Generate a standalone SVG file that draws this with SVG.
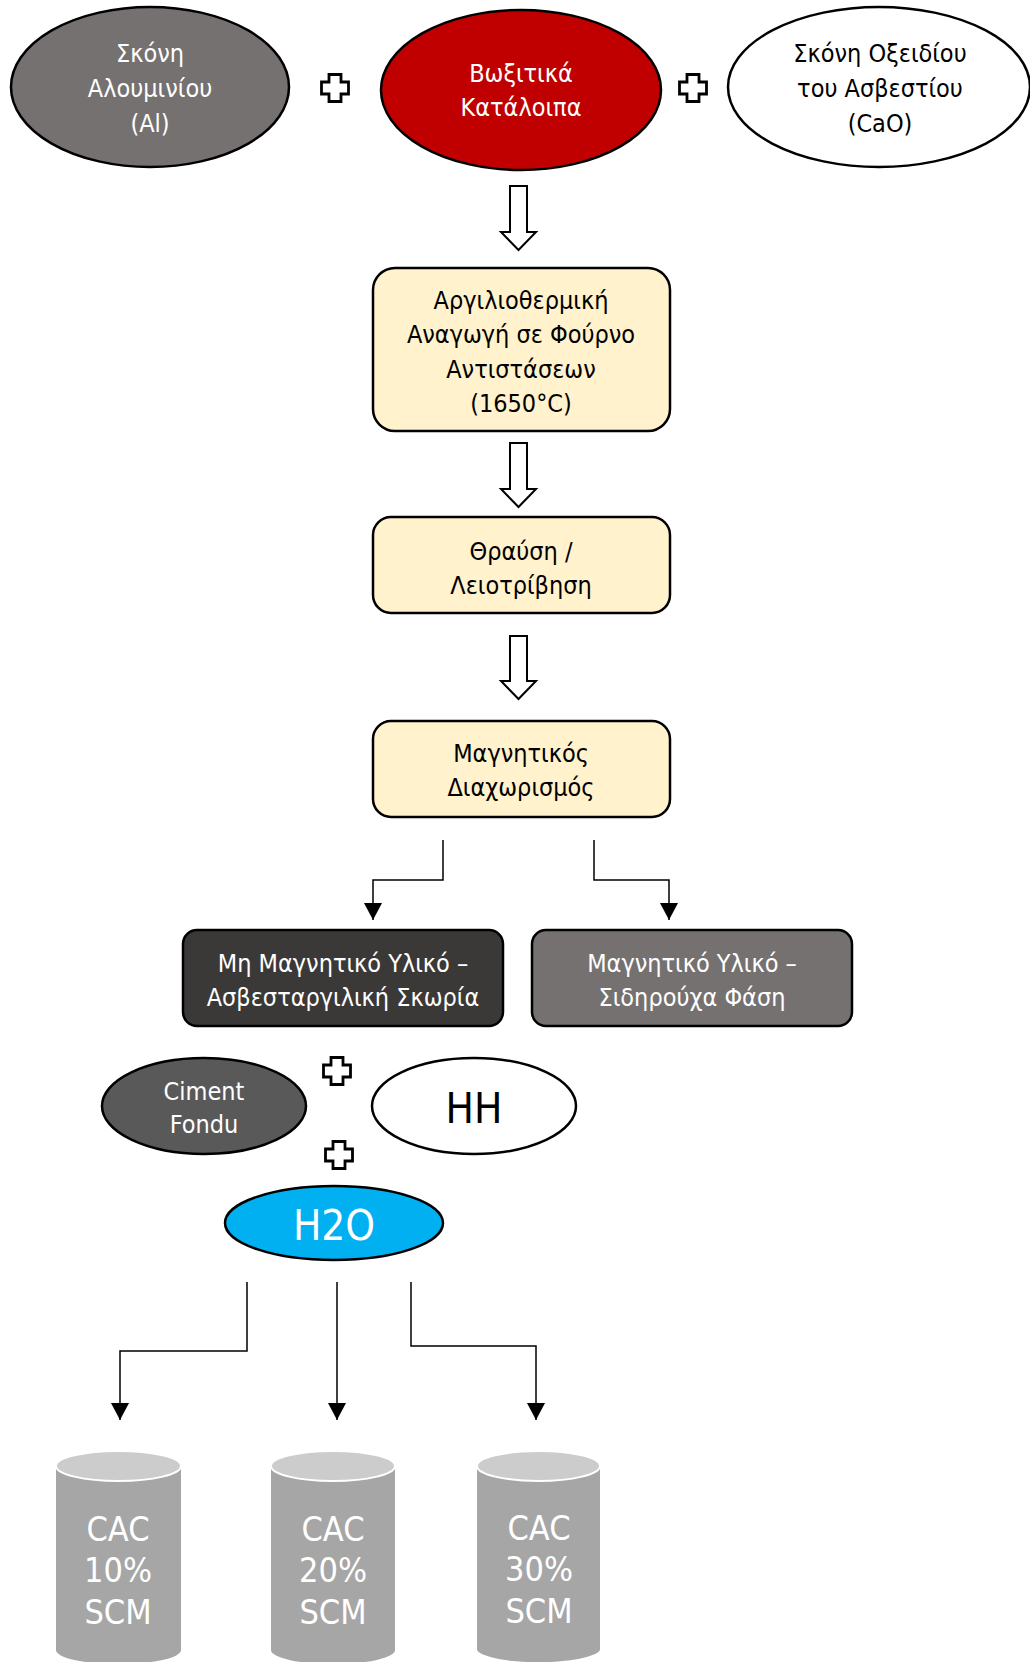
<svg xmlns="http://www.w3.org/2000/svg" width="1030" height="1662" viewBox="0 0 1030 1662">
<style>
text{font-family:"Liberation Sans Narrow","DejaVu Sans Condensed","Roboto",sans-serif;text-anchor:middle;dominant-baseline:central}
.t{font-size:25px}
.w{fill:#ffffff}
.k{fill:#000000}
.ol{stroke:#000;stroke-width:2.5}
.box{fill:#fff2cc;stroke:#000;stroke-width:2.5}
.blk{fill:#fff;stroke:#000;stroke-width:2}
.plus{fill:#fff;stroke:#000;stroke-width:2.8}
.con{fill:none;stroke:#000;stroke-width:1.5;marker-end:url(#ah)}
.cylb{fill:#a6a6a6}
.cylt{fill:#cccccc;stroke:#fff;stroke-width:2}
.big{font-size:34px}
</style>
<defs>
<marker id="ah" viewBox="0 0 10 10" refX="10" refY="5" markerWidth="17" markerHeight="18" preserveAspectRatio="none" orient="auto" markerUnits="userSpaceOnUse">
<path d="M0,0 L10,5 L0,10 Z" fill="#000"/>
</marker>
<path id="pl" d="M-6,-13.5 H6 V-6 H13.5 V6 H6 V13.5 H-6 V6 H-13.5 V-6 H-6 Z"/>
</defs>
<rect width="1030" height="1662" fill="#fff"/>

<g id="al">
<ellipse cx="150" cy="87" rx="139" ry="80" fill="#757171" class="ol"/>
<text class="t w" x="150" y="53">Σκόνη</text>
<text class="t w" x="150" y="88">Αλουμινίου</text>
<text class="t w" x="150" y="123">(Al)</text>
</g>
<g id="plus1"><use href="#pl" x="335" y="88" class="plus"/></g>
<g id="red">
<ellipse cx="521" cy="90" rx="140" ry="80" fill="#c00000" class="ol"/>
<text class="t w" x="521" y="73">Βωξιτικά</text>
<text class="t w" x="521" y="107">Κατάλοιπα</text>
</g>
<g id="plus2"><use href="#pl" x="693" y="88" class="plus"/></g>
<g id="cao">
<ellipse cx="879" cy="87" rx="151" ry="80" fill="#fff" class="ol"/>
<text class="t k" x="880" y="53">Σκόνη Οξειδίου</text>
<text class="t k" x="880" y="88">του Ασβεστίου</text>
<text class="t k" x="880" y="123">(CaO)</text>
</g>

<g id="blockarrows">
<path class="blk" d="M510,186 H527 V232 H536 L518.5,250 L501,232 H510 Z"/>
<path class="blk" d="M510,443 H527 V489 H536 L518.5,507 L501,489 H510 Z"/>
<path class="blk" d="M510,636 H527 V681 H536 L518.5,699 L501,681 H510 Z"/>
</g>

<g id="box1">
<rect x="373" y="268" width="297" height="163" rx="22" class="box"/>
<text class="t k" x="521" y="300">Αργιλιοθερμική</text>
<text class="t k" x="521" y="334">Αναγωγή σε Φούρνο</text>
<text class="t k" x="521" y="369">Αντιστάσεων</text>
<text class="t k" x="521" y="403">(1650°C)</text>
</g>
<g id="box2">
<rect x="373" y="517" width="297" height="96" rx="18" class="box"/>
<text class="t k" x="521" y="551">Θραύση /</text>
<text class="t k" x="521" y="585">Λειοτρίβηση</text>
</g>
<g id="box3">
<rect x="373" y="721" width="297" height="96" rx="18" class="box"/>
<text class="t k" x="521" y="753">Μαγνητικός</text>
<text class="t k" x="521" y="787">Διαχωρισμός</text>
</g>

<g id="connectors">
<path class="con" d="M443,840 V880 H373 V920"/>
<path class="con" d="M594,840 V880 H669 V920"/>
<path class="con" d="M247,1282 V1351 H120 V1420"/>
<path class="con" d="M337,1282 V1420"/>
<path class="con" d="M411,1282 V1346 H536 V1420"/>
</g>

<g id="box4">
<rect x="183" y="930" width="320" height="96" rx="14" fill="#3b3838" class="ol"/>
<text class="t w" x="343" y="963">Μη Μαγνητικό Υλικό –</text>
<text class="t w" x="343" y="997">Ασβεσταργιλική Σκωρία</text>
</g>
<g id="box5">
<rect x="532" y="930" width="320" height="96" rx="14" fill="#757171" class="ol"/>
<text class="t w" x="692" y="963">Μαγνητικό Υλικό –</text>
<text class="t w" x="692" y="997">Σιδηρούχα Φάση</text>
</g>

<g id="ciment">
<ellipse cx="204" cy="1106" rx="102" ry="48" fill="#595959" class="ol"/>
<text class="t w" x="204" y="1091">Ciment</text>
<text class="t w" x="204" y="1124">Fondu</text>
</g>
<g id="plus3"><use href="#pl" x="337" y="1071" class="plus"/></g>
<g id="hh">
<ellipse cx="474" cy="1106" rx="102" ry="48" fill="#fff" class="ol"/>
<text class="k" x="474" y="1108" style="font-size:42px">HH</text>
</g>
<g id="plus4"><use href="#pl" x="339" y="1155" class="plus"/></g>
<g id="h2o">
<ellipse cx="334" cy="1223" rx="109" ry="37" fill="#00b0f0" class="ol"/>
<text class="w" x="334" y="1225" style="font-size:42px">H2O</text>
</g>

<g id="cyl1">
<path class="cylb" d="M56,1466 V1650 A62,14 0 0 0 181,1650 V1466 Z"/>
<ellipse cx="118.5" cy="1466" rx="62.5" ry="15" class="cylt"/>
<text class="big w" x="118" y="1529">CAC</text>
<text class="big w" x="118" y="1570">10%</text>
<text class="big w" x="118" y="1612">SCM</text>
</g>
<g id="cyl2">
<path class="cylb" d="M271,1466 V1650 A62,14 0 0 0 395,1650 V1466 Z"/>
<ellipse cx="333" cy="1466" rx="62" ry="15" class="cylt"/>
<text class="big w" x="333" y="1529">CAC</text>
<text class="big w" x="333" y="1570">20%</text>
<text class="big w" x="333" y="1612">SCM</text>
</g>
<g id="cyl3">
<path class="cylb" d="M477,1466 V1650 A62,14 0 0 0 600,1650 V1466 Z"/>
<ellipse cx="538.5" cy="1466" rx="61.5" ry="15" class="cylt"/>
<text class="big w" x="539" y="1528">CAC</text>
<text class="big w" x="539" y="1569">30%</text>
<text class="big w" x="539" y="1611">SCM</text>
</g>
</svg>
